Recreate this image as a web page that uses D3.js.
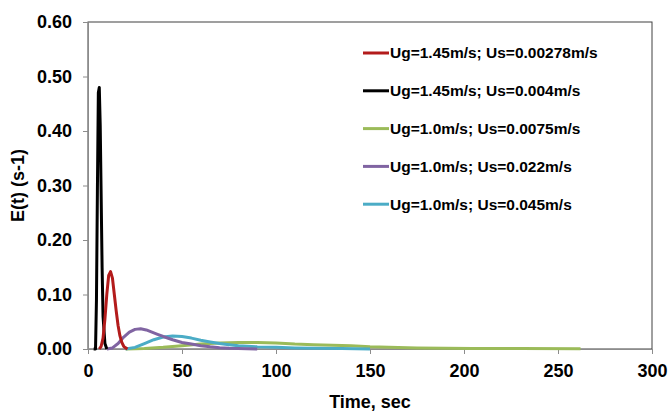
<!DOCTYPE html>
<html>
<head>
<meta charset="utf-8">
<script src="https://cdn.jsdelivr.net/npm/d3@7"></script>
<style>
  body { margin: 0; background: #fff; }
  text { font-family: Arial, "Liberation Sans", sans-serif; font-weight: bold; }
</style>
</head>
<body>
<div id="chart"></div>
<script>
// residence time distributions
var seriesNames = [
    "Ug=1.45m/s; Us=0.00278m/s",
    "Ug=1.45m/s; Us=0.004m/s",
    "Ug=1.0m/s; Us=0.0075m/s",
    "Ug=1.0m/s; Us=0.022m/s",
    "Ug=1.0m/s; Us=0.045m/s"
];
var seriesColors = ["#b31b1b", "#000000", "#9bbb59", "#8064a2", "#4bacc6"];

var redT = [6, 7, 8, 9, 10, 11, 12, 13, 14, 15, 16, 17, 18, 19, 20, 21];
var redE = [0, 0.005, 0.02, 0.055, 0.1, 0.135, 0.142, 0.13, 0.1, 0.07, 0.043, 0.024, 0.012, 0.005, 0.002, 0];

var blackT = [3, 4, 4.5, 5, 5.5, 6, 6.5, 7, 7.5, 8, 9, 10];
var blackE = [0, 0, 0.09, 0.29, 0.47, 0.48, 0.41, 0.28, 0.15, 0.06, 0.01, 0];

var greenT = [20, 30, 40, 50, 60, 70, 80, 90, 100, 110, 120, 130, 140, 150, 160, 175, 190, 205, 230, 262];
var greenE = [0, 0.001, 0.003, 0.006, 0.009, 0.011, 0.012, 0.012, 0.011, 0.009, 0.008, 0.007, 0.006, 0.004, 0.003, 0.002, 0.0015, 0.001, 0.0008, 0.0005];

var purpleT = [10, 13, 16, 19, 22, 25, 28, 31, 34, 37, 40, 45, 50, 55, 60, 65, 70, 75, 80, 90];
var purpleE = [0, 0.002, 0.01, 0.022, 0.031, 0.036, 0.037, 0.035, 0.031, 0.027, 0.023, 0.017, 0.012, 0.009, 0.006, 0.004, 0.0025, 0.0015, 0.001, 0];

var cyanT = [20, 25, 30, 35, 40, 45, 50, 55, 60, 65, 70, 75, 80, 90, 100, 110, 120, 135, 150];
var cyanE = [0, 0.003, 0.01, 0.017, 0.022, 0.024, 0.023, 0.02, 0.016, 0.013, 0.01, 0.008, 0.006, 0.004, 0.003, 0.002, 0.0015, 0.001, 0];

var xTicks = [0, 50, 100, 150, 200, 250, 300];
var yTicks = [0, 0.1, 0.2, 0.3, 0.4, 0.5, 0.6];

var allT = [redT, blackT, greenT, purpleT, cyanT];
var allE = [redE, blackE, greenE, purpleE, cyanE];

var width = 670, height = 412;
var margin = {top: 22, right: 18, bottom: 63, left: 88};

var svg = d3.select("#chart").append("svg")
    .attr("width", width)
    .attr("height", height);

var x = d3.scaleLinear().domain([0, 300]).range([margin.left, width - margin.right]);
var y = d3.scaleLinear().domain([0, 0.6]).range([height - margin.bottom, margin.top]);

// plot frame
svg.append("rect")
    .attr("x", x(0)).attr("y", y(0.6))
    .attr("width", x(300) - x(0)).attr("height", y(0) - y(0.6))
    .attr("fill", "none").attr("stroke", "#404040").attr("stroke-width", 1);

// axes
var xAxis = svg.append("g")
    .attr("transform", "translate(0," + y(0) + ")")
    .call(d3.axisBottom(x).tickValues(xTicks).tickSize(5).tickPadding(10).tickFormat(d3.format("d")));

var yAxis = svg.append("g")
    .attr("transform", "translate(" + x(0) + ",0)")
    .call(d3.axisLeft(y).tickValues(yTicks).tickSize(5).tickPadding(11).tickFormat(d3.format(".2f")));

[xAxis, yAxis].forEach(function (g) {
    g.select(".domain").attr("stroke", "#8c8c8c");
    g.selectAll(".tick line").attr("stroke", "#8c8c8c");
    g.selectAll(".tick text")
        .attr("fill", "#000")
        .style("font-size", "18px")
        .style("font-family", "Arial, 'Liberation Sans', sans-serif")
        .style("font-weight", "bold");
});

// axis titles
svg.append("text")
    .attr("x", (x(0) + x(300)) / 2)
    .attr("y", 408)
    .attr("text-anchor", "middle")
    .style("font-size", "18px")
    .text("Time, sec");

svg.append("text")
    .attr("transform", "translate(24," + ((y(0) + y(0.6)) / 2) + ") rotate(-90)")
    .attr("text-anchor", "middle")
    .style("font-size", "18px")
    .text("E(t) (s-1)");

// curves
var line = d3.line()
    .x(function (d) { return x(d[0]); })
    .y(function (d) { return y(d[1]); });

// draw order: green, cyan, purple, black, red
[2, 4, 3, 1, 0].forEach(function (i) {
    var pts = allT[i].map(function (t, k) { return [t, allE[i][k]]; });
    svg.append("path")
        .datum(pts)
        .attr("d", line)
        .attr("fill", "none")
        .attr("stroke", seriesColors[i])
        .attr("stroke-width", 3)
        .attr("stroke-linejoin", "round");
});

// legend
var legend = svg.append("g");
seriesNames.forEach(function (name, i) {
    var ly = 53 + i * 37.8;
    legend.append("line")
        .attr("x1", 363).attr("x2", 389)
        .attr("y1", ly).attr("y2", ly)
        .attr("stroke", seriesColors[i])
        .attr("stroke-width", 3);
    legend.append("text")
        .attr("x", 390)
        .attr("y", ly)
        .attr("dy", "0.35em")
        .style("font-size", "15.5px")
        .text(name);
});
</script>
</body>
</html>
